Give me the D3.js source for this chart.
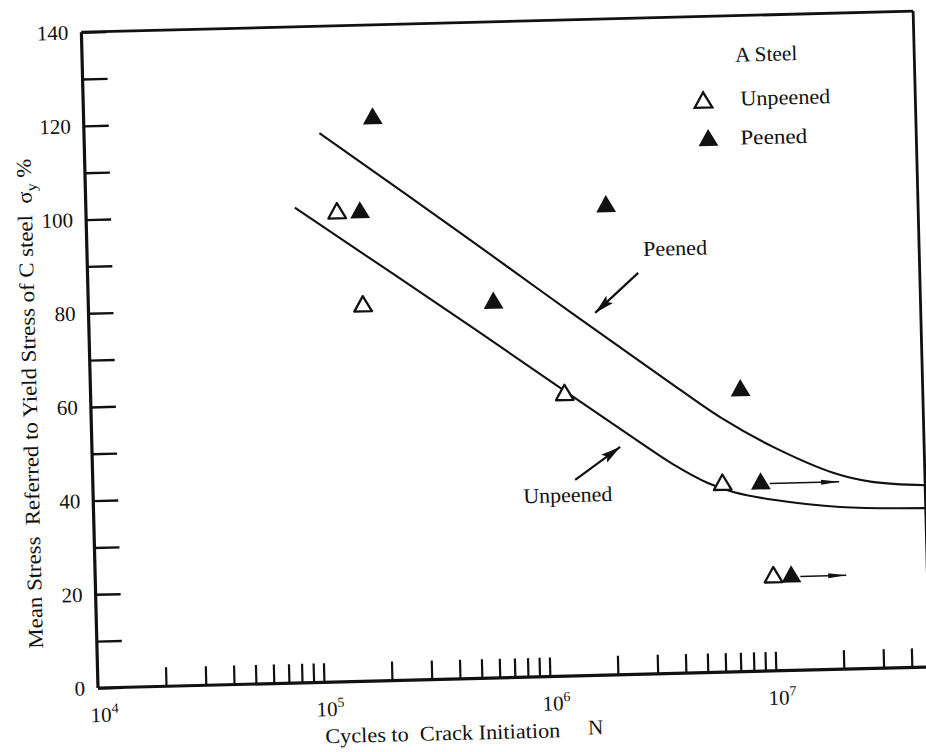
<!DOCTYPE html>
<html>
<head>
<meta charset="utf-8">
<script src="https://cdn.jsdelivr.net/npm/d3@7"></script>
<style>
  html, body { margin: 0; padding: 0; background: #fff; }
  svg { display: block; }
  text { font-family: "Liberation Serif", "Times New Roman", serif; fill: #111; }
</style>
</head>
<body>
<svg id="chart" width="926" height="752"></svg>
<script>
// ---- data ----------------------------------------------------------------
// Mean stress (% of yield stress of C steel) vs. cycles to crack initiation N
const yTickValues = [0, 10, 20, 30, 40, 50, 60, 70, 80, 90, 100, 110, 120, 130, 140];
const yLabelValues = [0, 20, 40, 60, 80, 100, 120, 140];
const decadeExponents = [4, 5, 6, 7];

const unpeenedN = [1.29e5, 1.64e5, 1.25e6, 6.1e6, 1.0e7];
const unpeenedS = [100, 80, 60, 40, 20];

const peenedN = [1.9e5, 1.63e5, 6.2e5, 2.0e6, 7.5e6, 9.0e6, 1.2e7];
const peenedS = [120, 100, 80, 100, 60, 40, 20];

// run-out specimens (no crack yet), arrows pointing to larger N
const runoutFromN = [9.0e6, 1.2e7];
const runoutToN = [2.0e7, 2.1e7];
const runoutS = [40, 20];

// fitted S-N curves
const peenedCurveN = [1.1e5, 5e5, 1.35e6, 3.5e6, 6.1e6, 1.03e7, 1.9e7, 2.8e7, 4.8e7];
const peenedCurveS = [117.2, 93.5, 77.7, 62.8, 54.3, 47.8, 41.9, 39.8, 38.8];
const unpeenedCurveN = [8.4e4, 5e5, 1.36e6, 2.67e6, 3.71e6, 5.22e6, 6.79e6, 1.02e7, 2.01e7, 4.8e7];
const unpeenedCurveS = [101.4, 74.8, 59.6, 49.4, 44.6, 40.5, 38.4, 36.5, 34.6, 33.9];

// ---- layout ----------------------------------------------------------------
const plotW = 832, plotH = 656;
const origin = [98, 688];        // lower-left corner of the frame
const tilt = -1.45;              // the whole sheet sits slightly rotated

const svg = d3.select("#chart");
const g = svg.append("g")
  .attr("transform", `rotate(${tilt} ${origin[0]} ${origin[1]}) translate(${origin[0]} ${origin[1] - plotH})`);

const x = d3.scaleLog().domain([1e4, 4.8e7]).range([0, plotW]);
const y = d3.scaleLinear().domain([0, 140]).range([plotH, 0]);

// arrow heads
const defs = svg.append("defs");
defs.append("marker")
  .attr("id", "headBig").attr("markerUnits", "userSpaceOnUse")
  .attr("viewBox", "0 0 20 10").attr("refX", 20).attr("refY", 5)
  .attr("markerWidth", 20).attr("markerHeight", 10).attr("orient", "auto")
  .append("path").attr("d", "M0,0 L20,5 L0,10 L4,5 Z").attr("fill", "#111");
defs.append("marker")
  .attr("id", "headThin").attr("markerUnits", "userSpaceOnUse")
  .attr("viewBox", "0 0 18 6").attr("refX", 18).attr("refY", 3)
  .attr("markerWidth", 18).attr("markerHeight", 6).attr("orient", "auto")
  .append("path").attr("d", "M0,0.5 L18,3 L0,5.5 Z").attr("fill", "#111");

// ---- axes ----------------------------------------------------------------
const yAxis = d3.axisLeft(y)
  .tickValues(yTickValues)
  .tickSizeInner(-25).tickSizeOuter(0).tickPadding(13)
  .tickFormat(d => yLabelValues.includes(d) ? d : "");
const yG = g.append("g").call(yAxis);
yG.select(".domain").remove();
yG.selectAll(".tick line").attr("stroke", "#111").attr("stroke-width", 2.4);
yG.selectAll(".tick text")
  .style("font-family", '"Liberation Serif", "Times New Roman", serif')
  .style("font-size", "21px").attr("fill", "#111");

const xAxis = d3.axisBottom(x)
  .tickValues(x.ticks().filter(v => v > 1e4 && v < 4.6e7))
  .tickSizeInner(-19).tickSizeOuter(0)
  .tickFormat("");
const xG = g.append("g").attr("transform", `translate(0,${plotH})`).call(xAxis);
xG.select(".domain").remove();
xG.selectAll(".tick line").attr("stroke", "#111").attr("stroke-width", 2.2);

// decade labels 10^n
const decLab = g.append("g").selectAll("text").data(decadeExponents).join("text")
  .attr("x", d => x(Math.pow(10, d)) - 8)
  .attr("y", plotH + 34)
  .style("font-size", "21px");
decLab.append("tspan").text("10");
decLab.append("tspan").attr("dy", -9).style("font-size", "14px").text(d => d);

// frame
const frame = g.append("g").attr("stroke", "#111").attr("fill", "none");
frame.append("line").attr("x1", 0).attr("y1", 0).attr("x2", 0).attr("y2", plotH).attr("stroke-width", 3.2);
frame.append("line").attr("x1", 0).attr("y1", plotH).attr("x2", plotW).attr("y2", plotH).attr("stroke-width", 3.2);
frame.append("line").attr("x1", 0).attr("y1", 0).attr("x2", plotW).attr("y2", 0).attr("stroke-width", 2.8);
frame.append("line").attr("x1", plotW).attr("y1", 0).attr("x2", plotW).attr("y2", plotH).attr("stroke-width", 2.8);

// axis titles
g.append("text")
  .attr("x", 226).attr("y", plotH + 61)
  .attr("textLength", 235).attr("lengthAdjust", "spacingAndGlyphs")
  .style("font-size", "21px").text("Cycles to\u00a0 Crack Initiation");
g.append("text")
  .attr("x", 489).attr("y", plotH + 59)
  .style("font-size", "21px").text("N");

const yTitle = g.append("text")
  .attr("transform", `translate(-54,${plotH - 41}) rotate(-90)`)
  .attr("textLength", 490).attr("lengthAdjust", "spacingAndGlyphs")
  .style("font-size", "21px");
yTitle.append("tspan").text("Mean Stress\u00a0 Referred to Yield Stress of C steel\u00a0 \u03c3");
yTitle.append("tspan").attr("dy", 5).style("font-size", "15px").text("y");
yTitle.append("tspan").attr("dy", -5).text(" %");

// ---- curves ----------------------------------------------------------------
const line = d3.line().x(d => x(d[0])).y(d => y(d[1])).curve(d3.curveCatmullRom.alpha(0.5));
g.append("path")
  .datum(peenedCurveN.map((n, i) => [n, peenedCurveS[i]]))
  .attr("d", line).attr("fill", "none").attr("stroke", "#111").attr("stroke-width", 2.1);
g.append("path")
  .datum(unpeenedCurveN.map((n, i) => [n, unpeenedCurveS[i]]))
  .attr("d", line).attr("fill", "none").attr("stroke", "#111").attr("stroke-width", 2.1);

// ---- run-out arrows ----------------------------------------------------------
g.append("g").selectAll("line").data(runoutFromN).join("line")
  .attr("x1", d => x(d) + 9)
  .attr("y1", (d, i) => y(runoutS[i]))
  .attr("x2", (d, i) => x(runoutToN[i]))
  .attr("y2", (d, i) => y(runoutS[i]))
  .attr("stroke", "#111").attr("stroke-width", 1.6)
  .attr("marker-end", "url(#headThin)");

// ---- markers ----------------------------------------------------------------
const triFilled = d3.symbol(d3.symbolTriangle, 170);
const triOpen = d3.symbol(d3.symbolTriangle, 135);

g.append("g").selectAll("path").data(unpeenedN).join("path")
  .attr("d", triOpen)
  .attr("transform", (d, i) => `translate(${x(d)},${y(unpeenedS[i])})`)
  .attr("fill", "#fff").attr("stroke", "#111").attr("stroke-width", 2.3)
  .attr("stroke-linejoin", "round");

g.append("g").selectAll("path").data(peenedN).join("path")
  .attr("d", triFilled)
  .attr("transform", (d, i) => `translate(${x(d)},${y(peenedS[i])})`)
  .attr("fill", "#111");

// ---- annotations ----------------------------------------------------------------
g.append("text").attr("x", 556).attr("y", 238)
  .attr("textLength", 64).attr("lengthAdjust", "spacingAndGlyphs")
  .style("font-size", "21px").text("Peened");
g.append("line").attr("x1", 550.5).attr("y1", 254.7).attr("x2", 506.5).attr("y2", 293.6)
  .attr("stroke", "#111").attr("stroke-width", 2.2).attr("marker-end", "url(#headBig)");

g.append("text").attr("x", 430).attr("y", 482)
  .attr("textLength", 89).attr("lengthAdjust", "spacingAndGlyphs")
  .style("font-size", "21px").text("Unpeened");
g.append("line").attr("x1", 482.3).attr("y1", 460.1).attr("x2", 528.1).attr("y2", 428.2)
  .attr("stroke", "#111").attr("stroke-width", 2.2).attr("marker-end", "url(#headBig)");

// ---- legend ----------------------------------------------------------------
const legend = g.append("g");
legend.append("text").attr("x", 653).attr("y", 46)
  .attr("textLength", 62).attr("lengthAdjust", "spacingAndGlyphs")
  .style("font-size", "21px").text("A Steel");
legend.append("path").attr("d", triOpen)
  .attr("transform", "translate(620,86)")
  .attr("fill", "#fff").attr("stroke", "#111").attr("stroke-width", 2.3);
legend.append("text").attr("x", 657).attr("y", 90)
  .attr("textLength", 90).attr("lengthAdjust", "spacingAndGlyphs")
  .style("font-size", "21px").text("Unpeened");
legend.append("path").attr("d", triFilled)
  .attr("transform", "translate(624,124)")
  .attr("fill", "#111");
legend.append("text").attr("x", 656).attr("y", 129)
  .attr("textLength", 67).attr("lengthAdjust", "spacingAndGlyphs")
  .style("font-size", "21px").text("Peened");
</script>
</body>
</html>
